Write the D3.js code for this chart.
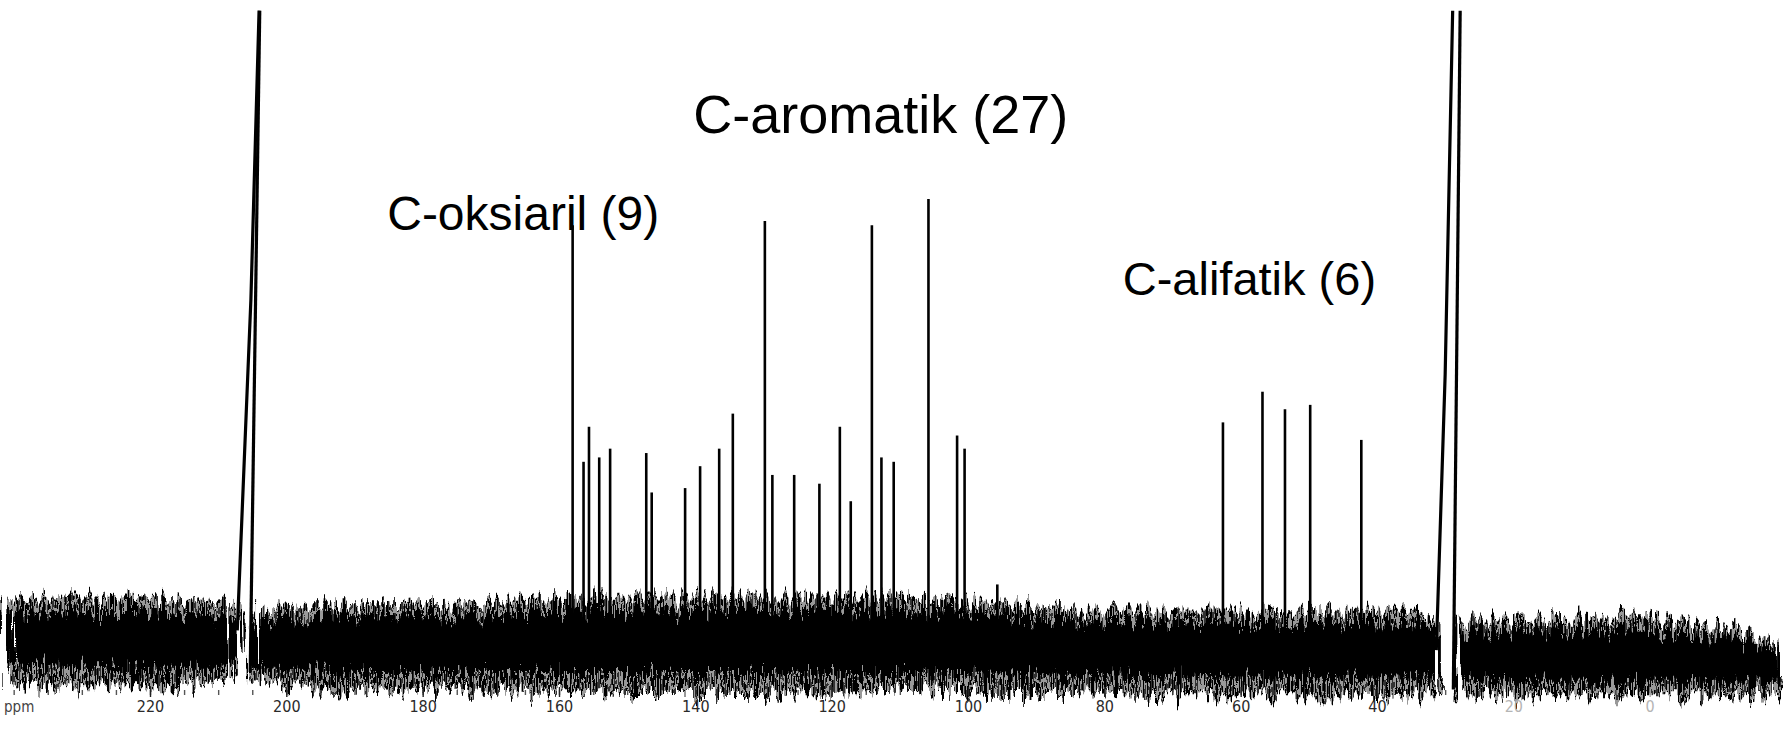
<!DOCTYPE html>
<html>
<head>
<meta charset="utf-8">
<script src="https://cdn.jsdelivr.net/npm/d3@7"></script>
<style>
  body { margin: 0; background: #fff; }
  svg  { display: block; }
</style>
</head>
<body>
<svg id="chart" width="1783" height="734"></svg>
<script>
'use strict';

// 13C NMR peaks: [ppm, relative height]
var oksiarilPeaks = [
    [158.0, 94], [156.4, 40], [155.6, 48], [154.1, 41], [152.5, 43],
    [147.2, 42], [146.4, 33], [141.5, 34], [139.3, 39]
];
var aromatikPeaks = [
    [136.5, 43], [134.5, 51], [129.8, 95], [128.7, 37], [125.5, 37],
    [121.8, 35], [118.8, 48], [117.2, 31], [114.1, 94], [112.7, 41],
    [110.9, 40], [105.8, 100], [101.6, 46], [100.5, 43], [95.7, 12]
];
var alifatikPeaks = [
    [62.6, 49], [56.8, 56], [53.5, 52], [49.8, 53], [42.3, 45]
];

// solvent (acetone-d6) signals, off scale: two pen strokes each, [ppm, height]
var solventLeftUp   = [[207.2, 1.5], [205.2, 77], [204.0, 143]];
var solventLeftDown = [[203.9, 143], [205.3, -8]];
var solventRightUp   = [[31.3, -3], [30.0, 60], [28.9, 143]];
var solventRightDown = [[27.8, 143], [28.8, -12]];

// baseline noise envelope: [ppm, top, bottom] (outer spikes and dense core)
var noiseOuter = [
    [[240.8, 8.5, -10.5], [232, 9.5, -11.5], [224, 9.5, -11.5], [216, 9, -11.5], [209, 8.5, -10.5], [207.3, 6.5, -8.5]],
    [[205.2, 7, -10], [196, 7.5, -12], [185, 7.5, -12.5], [172, 8, -12.5], [162, 9, -12.5],
     [150, 9.5, -13], [130, 9.5, -13], [110, 9.5, -12.5], [96, 8, -13], [85, 6.5, -13],
     [70, 6.5, -13.5], [58, 6.5, -13.5], [45, 6, -13.5], [35, 6, -14], [30.9, 4.5, -14]],
    [[28.0, 4, -13], [20, 4, -13.5], [10, 4.5, -13.5], [0, 5, -13.5], [-10, 2.5, -13.5], [-19.1, -1, -13]]
];
var noiseCore = [
    [[240.8, 5, -6], [230, 5.5, -6.5], [220, 5.5, -7], [210, 5, -7], [207.4, 3, -5]],
    [[205.1, 4, -7], [190, 4.5, -8], [170, 4.5, -8], [160, 5.5, -8], [140, 6, -8],
     [120, 6, -8], [100, 5.5, -8], [90, 3.5, -8.5], [70, 3, -9], [50, 3, -9], [31, 2, -9]],
    [[28.0, 1, -9.5], [15, 1, -10], [0, 1, -10], [-10, -0.5, -10], [-19.1, -3, -10]]
];

var majorTicks = [220, 200, 180, 160, 140, 120, 100, 80, 60, 40, 20, 0];
var faintTicks = [20, 0];
var minorTicks = d3.range(240, -19, -5);

var labels = [
    {text: "C-oksiaril (9)",  ppm: 185.2, h: 93,  size: 48},
    {text: "C-aromatik (27)", ppm: 140.3, h: 115, size: 54},
    {text: "C-alifatik (6)",  ppm: 77.3,  h: 78,  size: 47}
];

var width = 1783, height = 734;

var chart = d3.select("#chart");
var defs  = chart.append("defs");

var xScale = d3.scaleLinear().domain([220, 40]).range([150, 1377]),
    yScale = d3.scaleLinear().domain([0, 100]).range([637, 199]);

// keep the off-scale solvent strokes inside the sheet
defs.append("clipPath").attr("id", "plotclip")
    .append("rect").attr("x", 0).attr("y", 8).attr("width", width).attr("height", height - 8);

// stripe texture for the spiky noise fringe
var tex = defs.append("pattern")
    .attr("id", "spikes")
    .attr("patternUnits", "userSpaceOnUse")
    .attr("width", 5).attr("height", 40);
tex.append("rect").attr("x", 0).attr("y", 0).attr("width", 2.4).attr("height", 40).attr("fill", "#000");
tex.append("rect").attr("x", 3.2).attr("y", 0).attr("width", 1.2).attr("height", 40).attr("fill", "#000");

// scanned-trace look: columns jitter up and down
var rough = defs.append("filter")
    .attr("id", "rough")
    .attr("filterUnits", "userSpaceOnUse")
    .attr("x", 0).attr("y", 540).attr("width", width).attr("height", 190);
rough.append("feTurbulence")
    .attr("type", "fractalNoise")
    .attr("baseFrequency", "0.26 0.012")
    .attr("numOctaves", 2)
    .attr("seed", 7)
    .attr("result", "grain");
rough.append("feDisplacementMap")
    .attr("in", "SourceGraphic")
    .attr("in2", "grain")
    .attr("scale", 38)
    .attr("xChannelSelector", "R")
    .attr("yChannelSelector", "G");

var board = chart.append("g").attr("clip-path", "url(#plotclip)");

// noise band
var band = d3.area()
    .x(function(d){ return xScale(d[0]); })
    .y0(function(d){ return yScale(d[2]); })
    .y1(function(d){ return yScale(d[1]); });

var noiseG = board.append("g").attr("filter", "url(#rough)");

noiseG.selectAll("path.noise-outer")
    .data(noiseOuter)
    .enter().append("path")
        .attr("class", "noise-outer")
        .attr("d", band)
        .style("fill", "url(#spikes)");

noiseG.selectAll("path.noise-core")
    .data(noiseCore)
    .enter().append("path")
        .attr("class", "noise-core")
        .attr("d", band)
        .style("fill", "#000");

// peaks
var allPeaks = oksiarilPeaks.concat(aromatikPeaks, alifatikPeaks);
board.selectAll("line.peak")
    .data(allPeaks)
    .enter().append("line")
        .attr("class", "peak")
        .attr("x1", function(d){ return xScale(d[0]); })
        .attr("x2", function(d){ return xScale(d[0]); })
        .attr("y1", yScale(-2))
        .attr("y2", function(d){ return yScale(d[1]); })
        .style("stroke", "#000")
        .style("stroke-width", 2.6);

// solvent signals
var stroke = d3.line()
    .x(function(d){ return xScale(d[0]); })
    .y(function(d){ return yScale(d[1]); });

board.selectAll("path.solvent")
    .data([solventLeftUp, solventLeftDown, solventRightUp, solventRightDown])
    .enter().append("path")
        .attr("class", "solvent")
        .attr("d", stroke)
        .style("fill", "none")
        .style("stroke", "#000")
        .style("stroke-width", 3.2);

// axis: minor ticks then labelled ticks
var axisY = 687;
chart.append("g")
    .attr("transform", "translate(0," + (axisY + 3) + ")")
    .call(d3.axisBottom(xScale).tickValues(minorTicks).tickSize(5).tickFormat(""))
    .call(function(g){
        g.select(".domain").remove();
        g.selectAll(".tick line").style("stroke", "#555").style("stroke-width", 1.4);
    });

chart.append("g")
    .attr("transform", "translate(0," + axisY + ")")
    .call(d3.axisBottom(xScale).tickValues(majorTicks).tickSize(10).tickPadding(4))
    .call(function(g){
        g.select(".domain").remove();
        g.selectAll(".tick line").style("stroke", "#222").style("stroke-width", 1.4);
        g.selectAll(".tick text")
            .style("font-family", "'Liberation Sans Narrow','DejaVu Sans Condensed',sans-serif")
            .style("font-size", "16px")
            .style("fill", function(d){ return faintTicks.indexOf(d) >= 0 ? "#b5b5b5" : "#2a2a2a"; });
        g.selectAll(".tick").filter(function(d){ return faintTicks.indexOf(d) >= 0; })
            .select("line").style("stroke", "#aaa");
    });

chart.append("text")
    .attr("x", 4).attr("y", 712)
    .style("font-family", "'Liberation Sans Narrow','DejaVu Sans Condensed',sans-serif")
    .style("font-size", "15px")
    .style("fill", "#444")
    .text("ppm");

// group annotations
chart.selectAll("text.group")
    .data(labels)
    .enter().append("text")
        .attr("class", "group")
        .attr("x", function(d){ return xScale(d.ppm); })
        .attr("y", function(d){ return yScale(d.h); })
        .style("font-family", "Arial, 'Liberation Sans', sans-serif")
        .style("font-size", function(d){ return d.size + "px"; })
        .style("fill", "#000")
        .text(function(d){ return d.text; });
</script>
</body>
</html>
